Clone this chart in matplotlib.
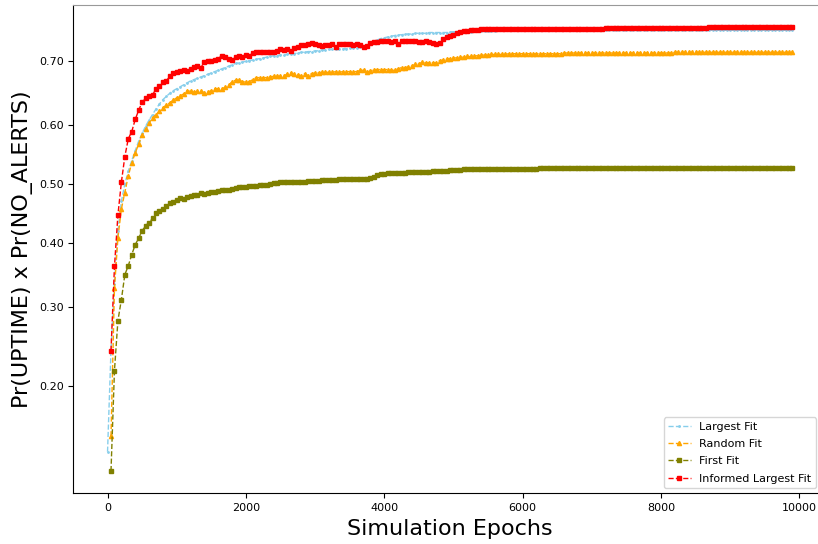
import matplotlib
matplotlib.use('Agg')
import matplotlib.pyplot as plt
from matplotlib.ticker import FormatStrFormatter, NullLocator

#################### Data ####################
# epochs at which each strategy was scored
largest_epochs = list(range(0, 9950, 50))
other_epochs = list(range(50, 9950, 50))

largest_fit = [
    0.137,
    0.242, 0.335, 0.420, 0.470, 0.500, 0.522, 0.540, 0.557, 0.573, 0.586,
    0.598, 0.608, 0.617, 0.626, 0.634, 0.641, 0.646, 0.651, 0.655, 0.658,
    0.661, 0.664, 0.667, 0.670, 0.672, 0.674, 0.676, 0.678, 0.680, 0.682,
    0.684, 0.686, 0.688, 0.690, 0.692, 0.694, 0.696, 0.697, 0.698, 0.699,
    0.700, 0.701, 0.702, 0.703, 0.704, 0.705, 0.706, 0.707, 0.707, 0.708,
    0.708, 0.709, 0.710, 0.710, 0.711, 0.712, 0.712, 0.713, 0.713, 0.714,
    0.714, 0.715, 0.715, 0.716, 0.716, 0.716, 0.717, 0.717, 0.717, 0.718,
    0.718, 0.718, 0.719, 0.719, 0.720, 0.723, 0.726, 0.729, 0.731, 0.732,
    0.733, 0.734, 0.735, 0.736, 0.736, 0.737, 0.737, 0.737, 0.738, 0.738,
    0.738, 0.738, 0.739, 0.739, 0.739, 0.739, 0.739, 0.739, 0.740, 0.740,
    0.740, 0.740, 0.740, 0.740, 0.740, 0.741, 0.741, 0.741, 0.741, 0.741,
    0.741, 0.741, 0.742, 0.742, 0.742, 0.742, 0.742, 0.742, 0.742, 0.742,
    0.742, 0.742, 0.742, 0.742, 0.742, 0.742, 0.742, 0.742, 0.742, 0.742,
    0.742, 0.742, 0.742, 0.742, 0.742, 0.742, 0.742, 0.742, 0.742, 0.742,
    0.742, 0.742, 0.742, 0.742, 0.742, 0.742, 0.742, 0.742, 0.742, 0.742,
    0.742, 0.742, 0.742, 0.742, 0.742, 0.742, 0.742, 0.742, 0.742, 0.742,
    0.742, 0.742, 0.742, 0.742, 0.742, 0.742, 0.742, 0.742, 0.742, 0.742,
    0.742, 0.742, 0.742, 0.742, 0.742, 0.742, 0.742, 0.742, 0.742, 0.742,
    0.742, 0.742, 0.742, 0.742, 0.742, 0.742, 0.742, 0.742, 0.742, 0.742,
    0.742, 0.742, 0.742, 0.742, 0.742, 0.742, 0.742, 0.742,
]

random_fit = [
    0.150, 0.328, 0.408, 0.457, 0.485, 0.514, 0.536, 0.553, 0.568, 0.584,
    0.593, 0.603, 0.612, 0.617, 0.622, 0.628, 0.632, 0.636, 0.640, 0.644,
    0.647, 0.650, 0.655, 0.654, 0.653, 0.654, 0.654, 0.652, 0.653, 0.655,
    0.658, 0.658, 0.658, 0.660, 0.663, 0.669, 0.671, 0.671, 0.669, 0.668,
    0.669, 0.672, 0.675, 0.675, 0.675, 0.675, 0.676, 0.677, 0.677, 0.677,
    0.677, 0.681, 0.682, 0.680, 0.679, 0.678, 0.681, 0.678, 0.681, 0.682,
    0.682, 0.683, 0.683, 0.683, 0.683, 0.684, 0.683, 0.684, 0.684, 0.684,
    0.684, 0.684, 0.686, 0.686, 0.683, 0.685, 0.687, 0.687, 0.687, 0.687,
    0.687, 0.686, 0.686, 0.688, 0.690, 0.690, 0.691, 0.692, 0.695, 0.695,
    0.698, 0.697, 0.697, 0.697, 0.697, 0.700, 0.701, 0.702, 0.703, 0.704,
    0.704, 0.705, 0.705, 0.706, 0.706, 0.707, 0.707, 0.708, 0.708, 0.708,
    0.709, 0.709, 0.709, 0.709, 0.709, 0.710, 0.710, 0.710, 0.710, 0.710,
    0.710, 0.710, 0.710, 0.710, 0.710, 0.710, 0.710, 0.710, 0.710, 0.710,
    0.710, 0.711, 0.711, 0.711, 0.711, 0.711, 0.711, 0.711, 0.711, 0.711,
    0.711, 0.711, 0.711, 0.711, 0.711, 0.711, 0.711, 0.711, 0.711, 0.711,
    0.711, 0.711, 0.711, 0.711, 0.711, 0.711, 0.711, 0.711, 0.711, 0.711,
    0.711, 0.711, 0.711, 0.712, 0.712, 0.712, 0.712, 0.712, 0.712, 0.712,
    0.712, 0.712, 0.712, 0.712, 0.712, 0.712, 0.712, 0.712, 0.712, 0.712,
    0.712, 0.712, 0.712, 0.712, 0.712, 0.712, 0.712, 0.712, 0.712, 0.712,
    0.712, 0.712, 0.712, 0.712, 0.712, 0.712, 0.712, 0.712,
]

first_fit = [
    0.122, 0.217, 0.281, 0.311, 0.349, 0.363, 0.381, 0.397, 0.408, 0.420,
    0.429, 0.434, 0.441, 0.451, 0.453, 0.457, 0.462, 0.467, 0.469, 0.473,
    0.476, 0.474, 0.478, 0.480, 0.481, 0.481, 0.485, 0.482, 0.484, 0.486,
    0.487, 0.488, 0.489, 0.489, 0.490, 0.491, 0.493, 0.494, 0.495, 0.495,
    0.496, 0.496, 0.497, 0.498, 0.498, 0.499, 0.500, 0.502, 0.502, 0.503,
    0.503, 0.503, 0.503, 0.503, 0.504, 0.504, 0.504, 0.505, 0.505, 0.505,
    0.505, 0.506, 0.506, 0.506, 0.506, 0.507, 0.508, 0.509, 0.509, 0.509,
    0.509, 0.509, 0.509, 0.509, 0.509, 0.511, 0.512, 0.515, 0.517, 0.517,
    0.518, 0.518, 0.519, 0.519, 0.519, 0.519, 0.520, 0.520, 0.520, 0.520,
    0.521, 0.521, 0.521, 0.522, 0.522, 0.523, 0.523, 0.523, 0.524, 0.524,
    0.524, 0.524, 0.525, 0.525, 0.525, 0.525, 0.525, 0.525, 0.525, 0.526,
    0.526, 0.526, 0.526, 0.526, 0.526, 0.526, 0.526, 0.526, 0.526, 0.526,
    0.526, 0.526, 0.526, 0.526, 0.527, 0.527, 0.527, 0.527, 0.527, 0.527,
    0.527, 0.527, 0.527, 0.527, 0.527, 0.527, 0.527, 0.527, 0.527, 0.527,
    0.527, 0.527, 0.527, 0.527, 0.527, 0.527, 0.527, 0.527, 0.527, 0.527,
    0.527, 0.527, 0.527, 0.527, 0.527, 0.527, 0.527, 0.527, 0.527, 0.527,
    0.527, 0.527, 0.527, 0.527, 0.527, 0.527, 0.527, 0.527, 0.527, 0.527,
    0.527, 0.527, 0.527, 0.527, 0.527, 0.527, 0.528, 0.528, 0.528, 0.528,
    0.528, 0.528, 0.528, 0.528, 0.528, 0.528, 0.528, 0.528, 0.528, 0.528,
    0.528, 0.528, 0.528, 0.528, 0.528, 0.528, 0.528, 0.528,
]

informed_largest_fit = [
    0.241, 0.362, 0.447, 0.503, 0.547, 0.577, 0.589, 0.609, 0.624, 0.637,
    0.643, 0.646, 0.648, 0.658, 0.662, 0.668, 0.670, 0.677, 0.682, 0.684,
    0.685, 0.687, 0.685, 0.688, 0.691, 0.692, 0.690, 0.698, 0.700, 0.699,
    0.701, 0.703, 0.707, 0.705, 0.702, 0.701, 0.705, 0.707, 0.705, 0.708,
    0.707, 0.711, 0.712, 0.712, 0.712, 0.712, 0.713, 0.713, 0.714, 0.716,
    0.715, 0.716, 0.714, 0.718, 0.719, 0.722, 0.722, 0.724, 0.725, 0.724,
    0.722, 0.721, 0.722, 0.722, 0.724, 0.719, 0.724, 0.723, 0.724, 0.724,
    0.722, 0.723, 0.722, 0.720, 0.721, 0.725, 0.726, 0.726, 0.727, 0.727,
    0.727, 0.726, 0.727, 0.724, 0.727, 0.727, 0.728, 0.727, 0.727, 0.726,
    0.726, 0.727, 0.726, 0.725, 0.724, 0.725, 0.731, 0.733, 0.735, 0.736,
    0.738, 0.740, 0.741, 0.741, 0.742, 0.742, 0.742, 0.743, 0.743, 0.743,
    0.743, 0.743, 0.743, 0.743, 0.743, 0.744, 0.744, 0.744, 0.744, 0.744,
    0.744, 0.744, 0.744, 0.744, 0.744, 0.744, 0.744, 0.744, 0.744, 0.744,
    0.744, 0.744, 0.744, 0.744, 0.744, 0.744, 0.744, 0.744, 0.744, 0.744,
    0.744, 0.744, 0.744, 0.745, 0.745, 0.745, 0.745, 0.745, 0.745, 0.745,
    0.745, 0.745, 0.745, 0.745, 0.745, 0.745, 0.745, 0.745, 0.745, 0.745,
    0.745, 0.745, 0.745, 0.745, 0.745, 0.745, 0.745, 0.745, 0.745, 0.745,
    0.745, 0.745, 0.745, 0.746, 0.746, 0.746, 0.746, 0.746, 0.746, 0.746,
    0.746, 0.746, 0.746, 0.746, 0.746, 0.746, 0.746, 0.746, 0.746, 0.746,
    0.746, 0.746, 0.746, 0.746, 0.746, 0.746, 0.746, 0.746,
]

y_ticks = [0.2, 0.3, 0.4, 0.5, 0.6, 0.7]
#################### Data ####################

fig = plt.figure(figsize=(8.18, 5.44), dpi=100)
ax = fig.add_axes([0.0896, 0.0932, 0.921, 0.8976])

ax.plot(largest_epochs, largest_fit, '--', color='skyblue', marker='.',
        markersize=2, linewidth=1, label='Largest Fit')
ax.plot(other_epochs, random_fit, '--', color='orange', marker='^',
        markersize=3, linewidth=1, label='Random Fit')
ax.plot(other_epochs, first_fit, '--', color='olive', marker='s',
        markersize=2.8, linewidth=1, label='First Fit')
ax.plot(other_epochs, informed_largest_fit, '--', color='red', marker='s',
        markersize=2.8, linewidth=1, label='Informed Largest Fit')

ax.set_yscale('logit')
ax.set_yticks(y_ticks)
ax.yaxis.set_major_formatter(FormatStrFormatter('%.2f'))
ax.yaxis.set_minor_locator(NullLocator())
ax.tick_params(labelsize=8)
ax.spines['top'].set_color('#999999')

ax.set_xlabel('Simulation Epochs', fontsize=16)
ax.set_ylabel('Pr(UPTIME) x Pr(NO_ALERTS)', fontsize=16)

fig.legend(loc='lower right', bbox_to_anchor=(816 / 818, 56 / 544),
           fontsize=8, borderaxespad=0, labelspacing=0.65)

plt.savefig('out.png', dpi=100)
